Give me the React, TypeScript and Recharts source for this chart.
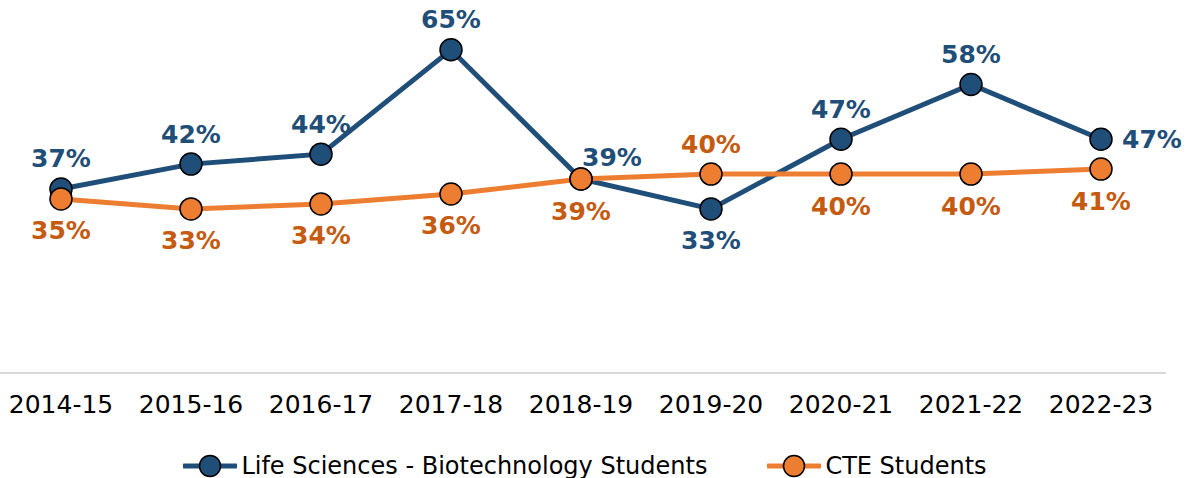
import React from 'react';
import { LineChart, Line, XAxis, YAxis, Legend, LabelList } from 'recharts';

const categories = ['2014-15', '2015-16', '2016-17', '2017-18', '2018-19', '2019-20', '2020-21', '2021-22', '2022-23'];
const lifeSciences = [37, 42, 44, 65, 39, 33, 47, 58, 47];
const cteStudents = [35, 33, 34, 36, 39, 40, 40, 40, 41];
const lifeLabelPos = ['top', 'top', 'top', 'top', 'topRight', 'bottom', 'top', 'top', 'right'];
const cteLabelPos = ['bottom', 'bottom', 'bottom', 'bottom', 'bottom', 'top', 'bottom', 'bottom', 'bottom'];

const BLUE = '#1F4E79';
const ORANGE = '#ED7D31';
const BLUE_TEXT = '#1F4E79';
const ORANGE_TEXT = '#C55A11';
const FONT = '"DejaVu Sans", sans-serif';

const data = categories.map((c, i) => ({ year: c, life: lifeSciences[i], cte: cteStudents[i] }));

const makeLabel = (positions: string[], color: string) => (props: any) => {
  const { x, y, value, index } = props;
  const pos = positions[index];
  let tx = x;
  let ty = y;
  if (pos === 'top') ty = y - 30;
  else if (pos === 'bottom') ty = y + 32;
  else if (pos === 'right') { tx = x + 51; ty = y; }
  else if (pos === 'topRight') { tx = x + 31; ty = y - 22; }
  return (
    <text x={tx} y={ty} textAnchor="middle" dominantBaseline="central" fill={color}
      fontFamily={FONT} fontWeight="bold" fontSize={25}>
      {`${value}%`}
    </text>
  );
};

const makeDot = (color: string) => (props: any) => {
  const { cx, cy, index } = props;
  if (cx == null || cy == null) return <g key={index} />;
  return <circle key={index} cx={cx} cy={cy} r={11} fill={color} stroke="#000" strokeWidth={1.5} />;
};

const renderLegend = () => (
  <div style={{ display: 'flex', justifyContent: 'center', alignItems: 'center', fontFamily: FONT, fontSize: 24, color: '#000', height: 45, paddingTop: 10, paddingLeft: 8 }}>
    {[{ name: 'Life Sciences - Biotechnology Students', color: BLUE }, { name: 'CTE Students', color: ORANGE }].map((it, i) => (
      <div key={it.name} style={{ display: 'flex', alignItems: 'center', marginLeft: i ? 60 : 0 }}>
        <svg width={54} height={26} style={{ marginRight: 4 }}>
          <line x1={1} y1={13} x2={53} y2={13} stroke={it.color} strokeWidth={5} strokeLinecap="round" />
          <circle cx={27} cy={13} r={10.5} fill={it.color} stroke="#000" strokeWidth={1.5} />
        </svg>
        <span>{it.name}</span>
      </div>
    ))}
  </div>
);

export default function App() {
  return (
    <div style={{ position: 'absolute', left: -4, top: 0 }}>
      <LineChart width={1201} height={478} data={data} margin={{ top: 0, right: 31, left: 0, bottom: 0 }}>
        <XAxis dataKey="year" axisLine={{ stroke: '#D9D9D9', strokeWidth: 2 }} tickLine={false}
          tick={{ fill: '#000', fontFamily: FONT, fontSize: 25 }} tickMargin={16} height={60} interval={0}
          padding={{ left: 65, right: 65 }} />
        <YAxis hide domain={[0, 75]} />
        <Legend verticalAlign="bottom" height={45} content={renderLegend} />
        <Line dataKey="life" name="Life Sciences - Biotechnology Students" stroke={BLUE} strokeWidth={5}
          dot={makeDot(BLUE)} activeDot={false} isAnimationActive={false}>
          <LabelList dataKey="life" content={makeLabel(lifeLabelPos, BLUE_TEXT)} />
        </Line>
        <Line dataKey="cte" name="CTE Students" stroke={ORANGE} strokeWidth={5}
          dot={makeDot(ORANGE)} activeDot={false} isAnimationActive={false}>
          <LabelList dataKey="cte" content={makeLabel(cteLabelPos, ORANGE_TEXT)} />
        </Line>
      </LineChart>
    </div>
  );
}
